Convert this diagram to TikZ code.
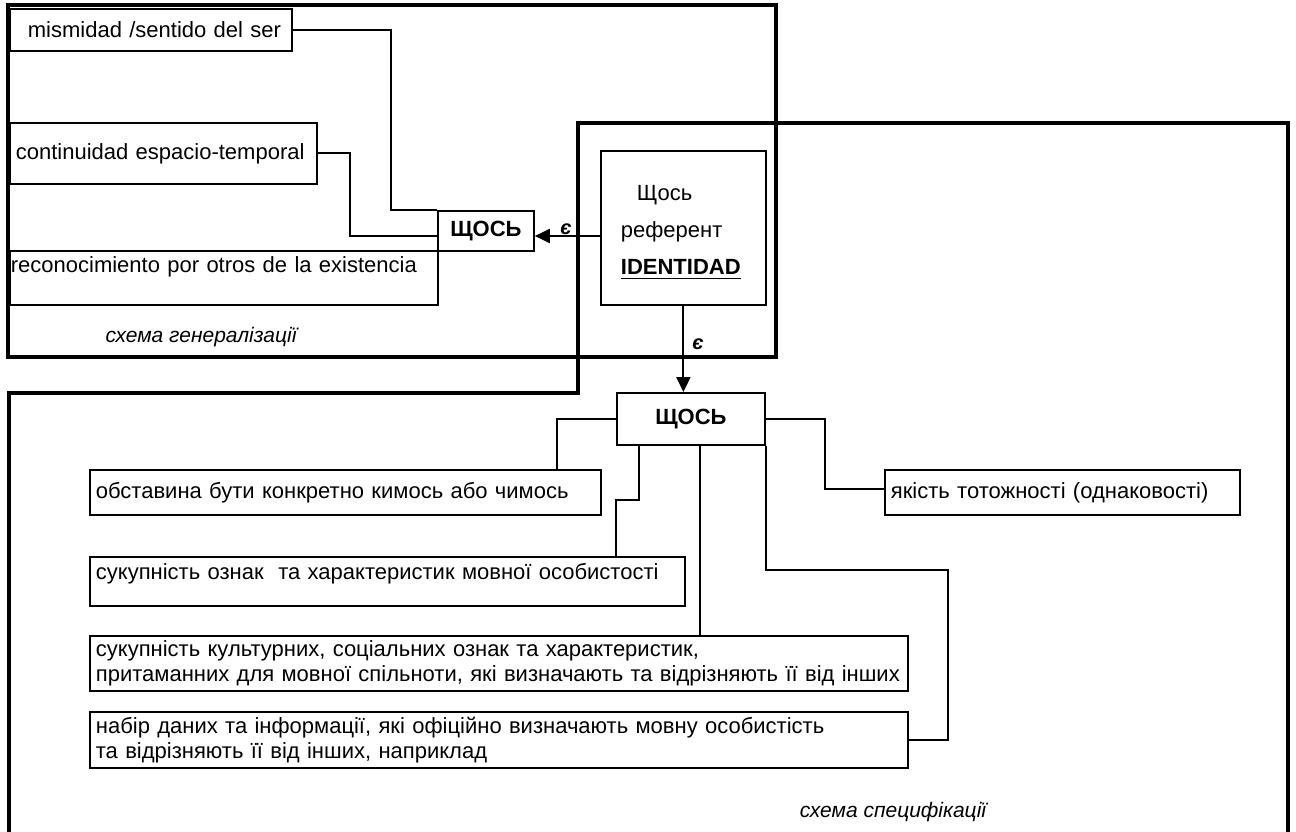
\documentclass[tikz,border=0pt]{standalone}
\usepackage{fontspec}
\setmainfont{Liberation Sans}
\usetikzlibrary{arrows.meta}
\newcommand{\ulid}[1]{\setbox0\hbox{#1}\rlap{\rule[-5pt]{\wd0}{1.8pt}}\box0}
\begin{document}
\begin{tikzpicture}[x=1pt, y=-1pt,
    >={Triangle[length=15pt,width=14pt]},
    every node/.style={font=\fontsize{22}{25}\selectfont},
    frame/.style={line width=4pt},
    line/.style={line width=2pt},
    box/.style={draw, line width=1.8pt, anchor=north west, align=left, inner xsep=6pt, inner ysep=0pt},
    key/.style={draw, line width=1.8pt, anchor=north west, inner sep=0pt, font=\fontsize{22}{25}\selectfont\bfseries},
    eps/.style={font=\fontsize{20}{24}\selectfont\bfseries\itshape, inner sep=0pt},
    tag/.style={font=\fontsize{21}{24}\selectfont\itshape}]

    \useasboundingbox (0,0) rectangle (1296,832);

    \draw[frame] (8,5) rectangle (776,357);
    \draw[frame] (9,832) |- (578,393) |- (1288,123) -- (1288,832);

    \node[box, text width=270pt, minimum height=42pt] (mis) at (9,8) {\hspace*{12pt}mismidad /sentido del ser};
    \node[box, text width=295pt, minimum height=61pt] (cont) at (9,122) {continuidad espacio-temporal};
    \node[box, text width=416pt, minimum height=54pt, text depth=27pt] (rec) at (9,250) {\hspace*{-5pt}reconocimiento por otros de la existencia};
    \node[key, minimum width=96pt, minimum height=40pt] (gen) at (437,210) {ЩОСЬ};
    \node[box, inner xsep=20pt, text width=125pt, minimum height=154pt] (ref) at (600,150)
        {\hspace*{16pt}\rule{0pt}{24pt}Щось\\[12pt] референт\\[12pt] \textbf{\ulid{IDENTIDAD}}};
    \node[tag] (sg) at (201,337) {схема генералізації};

    \coordinate (c0) at (391,210);
    \coordinate (c1) at (350,236);
    \draw[line] (mis.east) -| (c0) -- (gen.north west);
    \draw[line] (cont.east) -| (c1) -- (c1 -| gen.west);
    \draw[line, ->] (ref.west |- c1) -- (gen.east |- c1);
    \node[eps] (e1) at (566,229) {є};

    \node[key, minimum width=148pt, minimum height=52pt] (low) at (616,392) {ЩОСЬ};
    \draw[line, ->] (ref.south) -- (ref.south |- low.north);
    \node[eps] (e2) at (698,344) {є};

    \node[box, text width=499pt, minimum height=45pt] (ob) at (89,469) {обставина бути конкретно кимось або чимось};
    \node[box, text width=583pt, minimum height=49pt, text depth=20pt] (oz) at (89,556) {сукупність ознак\ \ та характеристик мовної особистості};
    \node[box, text width=806pt, minimum height=55pt] (ku) at (89,635)
        {сукупність культурних, соціальних ознак та характеристик,\\притаманних для мовної спільноти, які визначають та відрізняють її від інших};
    \node[box, text width=806pt, minimum height=56pt] (nab) at (89,711)
        {набір даних та інформації, які офіційно визначають мовну особистість\\та відрізняють її від інших, наприклад};
    \node[box, text width=343pt, minimum height=45pt] (ya) at (884,469) {якість тотожності (однаковості)};
    \node[tag] (ss) at (893,812) {схема специфікації};

    \coordinate (k1) at (557,469);
    \coordinate (k2) at (639,500);
    \coordinate (k3) at (616,500);
    \coordinate (k4) at (700,635);
    \coordinate (k5) at (948,570);
    \coordinate (k6) at (825,489);
    \draw[line] (low.west) -| (k1);
    \draw[line] (k2 |- low.south) -- (k2) -- (k3) -- (k3 |- oz.north);
    \draw[line] (k4 |- low.south) -- (k4);
    \draw[line] (low.south east) |- (k5) |- (nab.east);
    \draw[line] (low.east) -| (k6) -- (k6 -| ya.west);

\end{tikzpicture}
\end{document}
